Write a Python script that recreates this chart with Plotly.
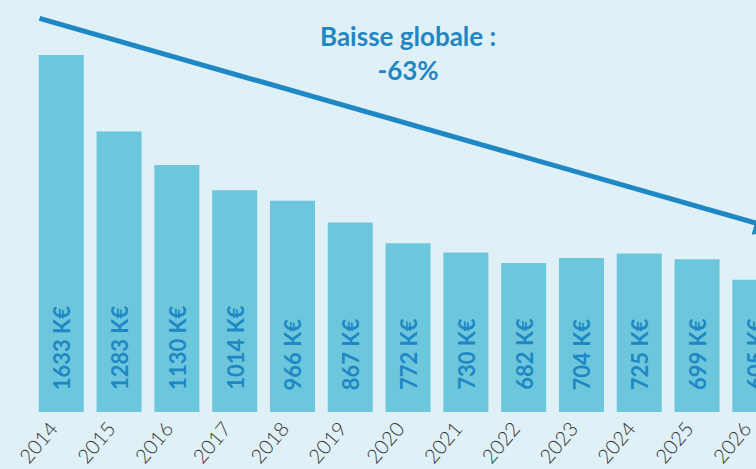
import plotly.graph_objects as go

years = ["2014", "2015", "2016", "2017", "2018", "2019", "2020",
         "2021", "2022", "2023", "2024", "2025", "2026"]
values = [1633, 1283, 1130, 1014, 966, 867, 772, 730, 682, 704, 725, 699, 605]
labels = [f"{v} K€" for v in values]
title_text = "Baisse globale :<br>-63%"

BG = "#dff0f7"
BAR = "#6cc7dd"
BLUE = "#1f87c4"

fig = go.Figure()
fig.add_trace(go.Bar(x=list(range(len(years))), y=values,
                     marker=dict(color=BAR, line=dict(width=0)), hoverinfo="skip"))

annotations = []
for i, lab in enumerate(labels):
    annotations.append(dict(x=i, y=0, xref="x", yref="y", text=lab, showarrow=False,
                            textangle=-90, yanchor="bottom", xanchor="center", yshift=20,
                            font=dict(family="Lato", size=22, color=BLUE, weight="bold")))

annotations.append(dict(x=6, y=1642, xref="x", yref="y", text=title_text, showarrow=False,
                        xanchor="center", yanchor="middle",
                        font=dict(family="Lato", size=26, color=BLUE, weight="bold")))

# trend arrow
annotations.append(dict(x=12.42, y=834, xref="x", yref="y", ax=-0.403, ay=1802,
                        axref="x", ayref="y", text="", showarrow=True,
                        arrowhead=2, arrowsize=1, arrowwidth=5, arrowcolor=BLUE))

fig.update_layout(
    width=756, height=469,
    margin=dict(l=0, r=0, t=0, b=57),
    paper_bgcolor=BG, plot_bgcolor=BG,
    bargap=0.221,
    showlegend=False,
    annotations=annotations,
    xaxis=dict(tickmode="array", tickvals=list(range(len(years))), ticktext=years,
               range=[-1.0603, 12.02], showgrid=False, zeroline=False,
               showline=False, ticks="", tickangle=-50, automargin=False,
               ticklabelshift=-10,
               tickfont=dict(family="Lato", size=20, color="#333333", weight=300)),
    yaxis=dict(range=[0, 1884.5], visible=False, showgrid=False, zeroline=False),
)

fig.write_html("out.html", config={"displayModeBar": False},
               post_script="document.body.style.margin='0';document.body.style.background='%s';" % BG)
